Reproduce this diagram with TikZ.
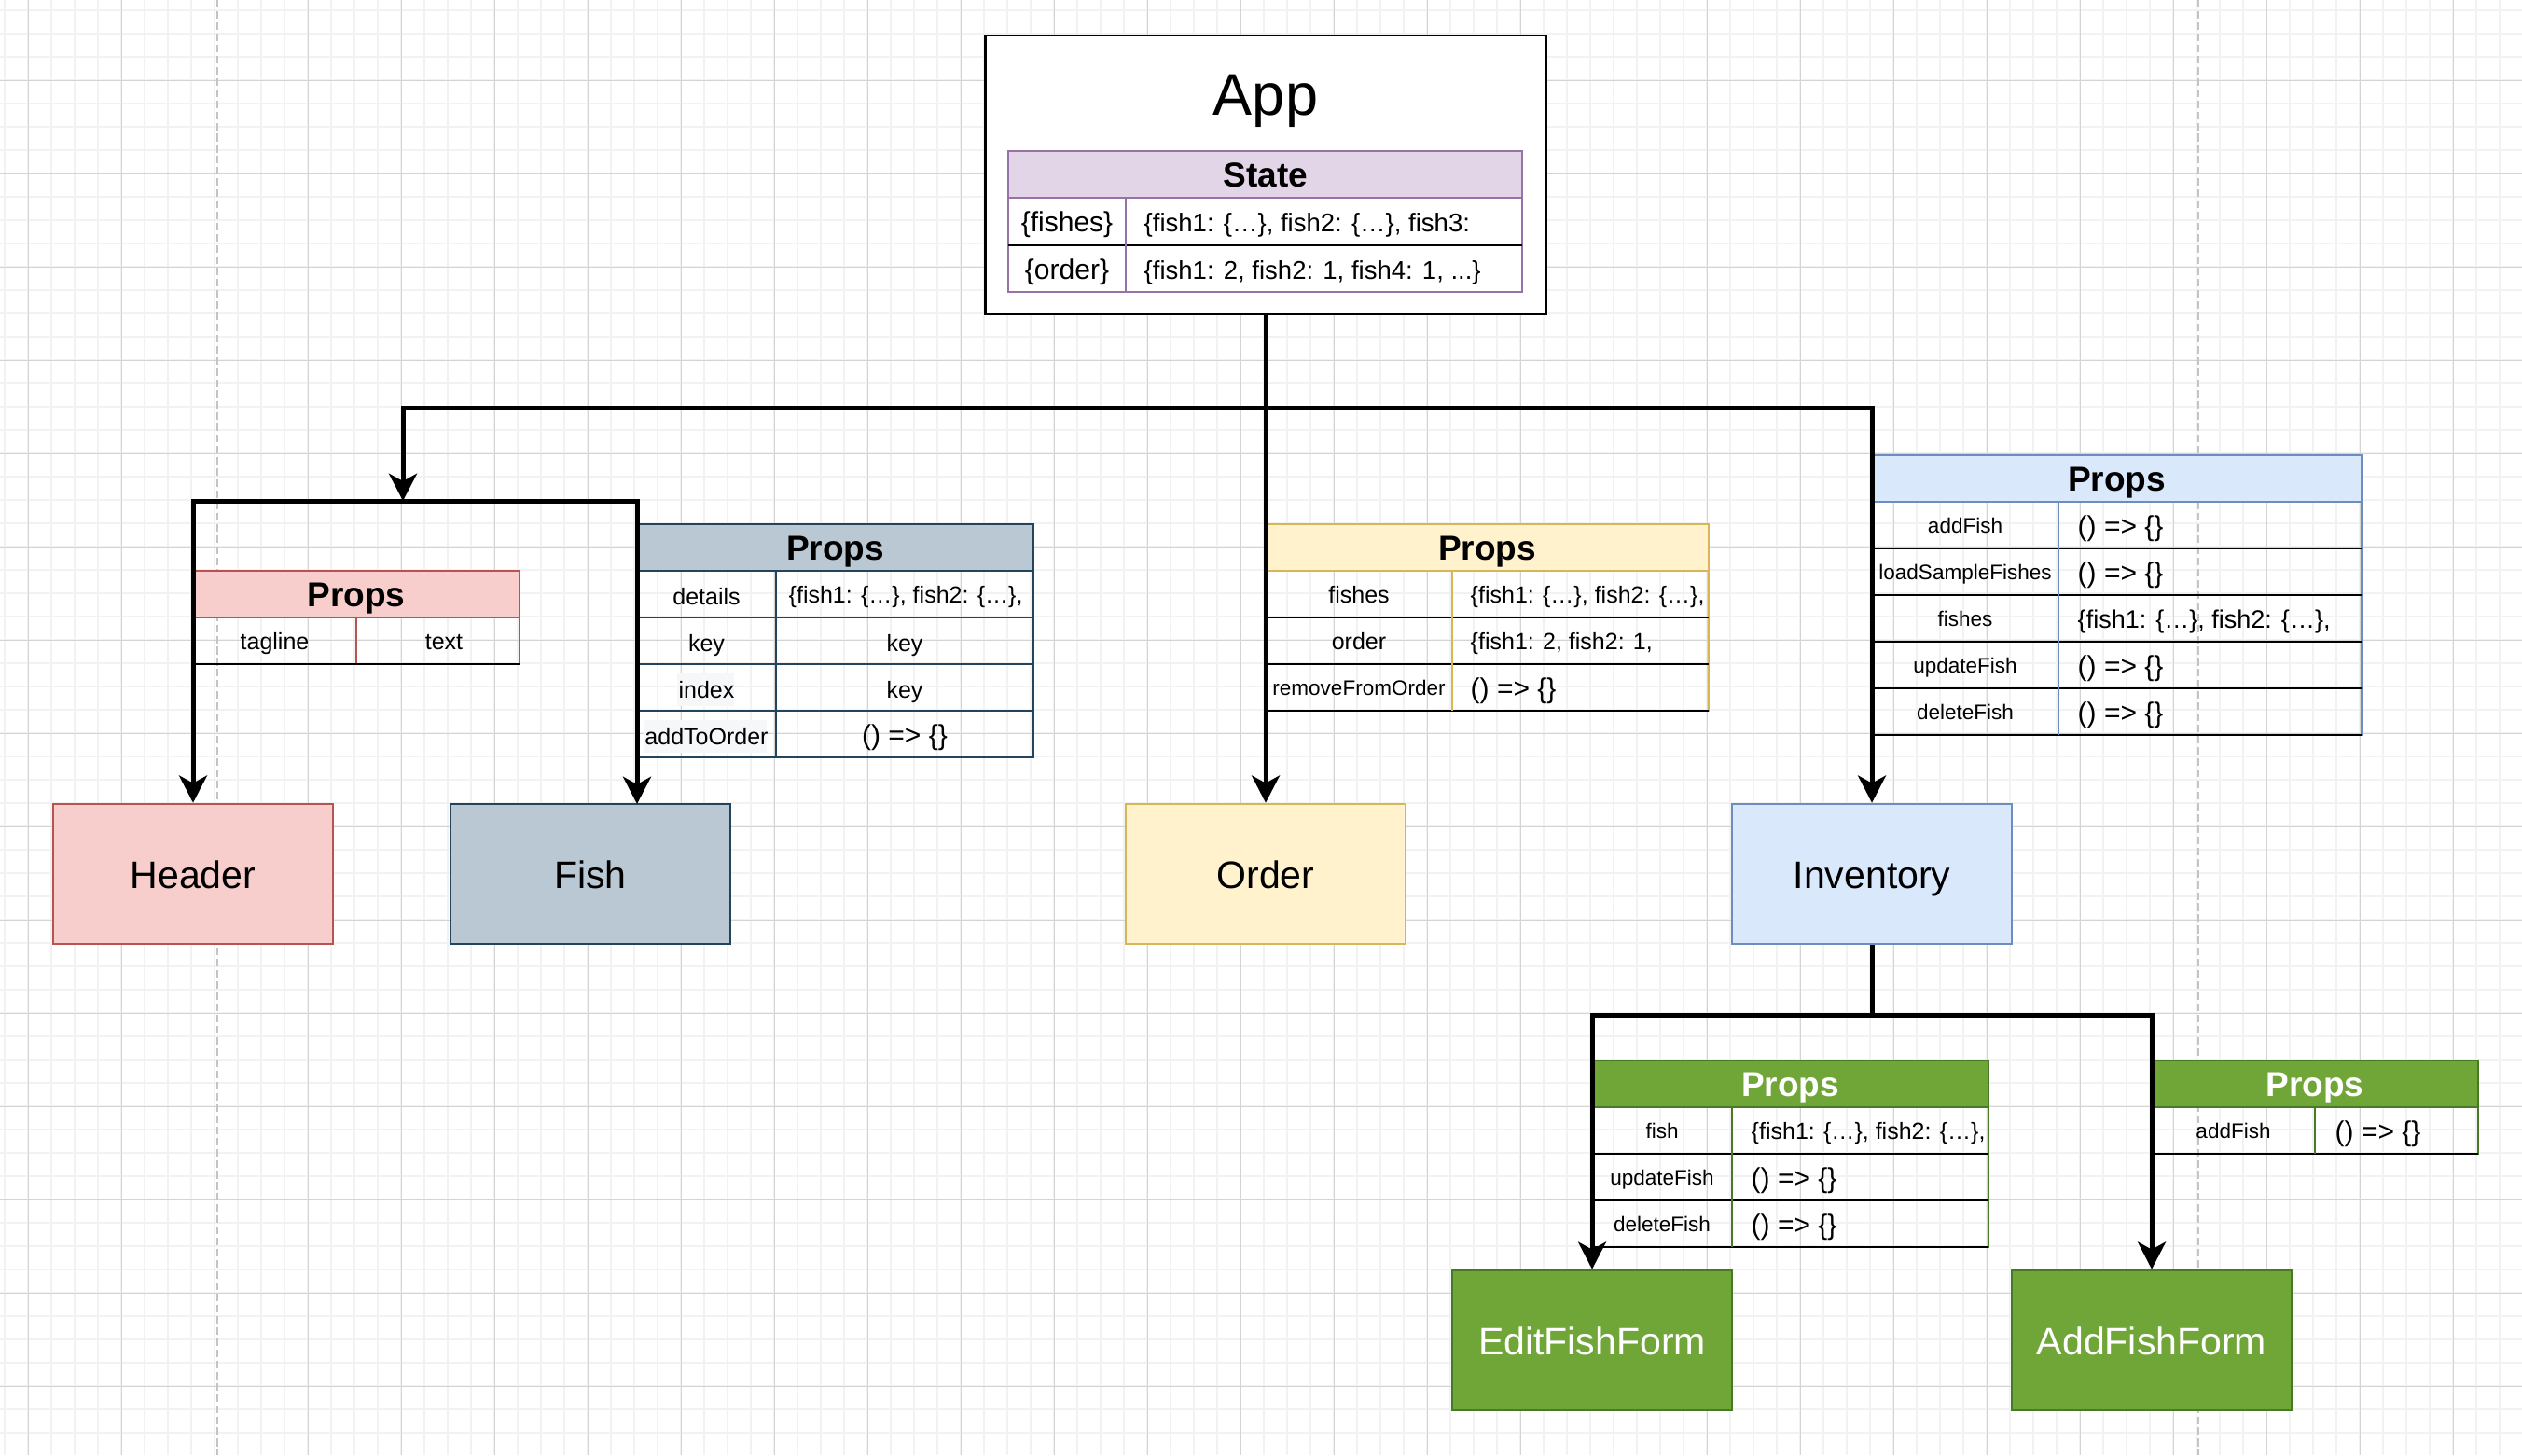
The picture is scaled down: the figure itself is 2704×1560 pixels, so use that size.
\documentclass[tikz,border=0pt]{standalone}
\usepackage{fontspec}
\setmainfont{Liberation Sans}
\usetikzlibrary{arrows.meta}
\newcommand\pxf[1]{\fontsize{\fpeval{#1*0.28453}pt}{\fpeval{#1*0.34}pt}\selectfont}
\definecolor{pinkF}{HTML}{F8CECC}\definecolor{pinkS}{HTML}{B85450}
\definecolor{fishF}{HTML}{BAC8D3}\definecolor{fishS}{HTML}{23445D}
\definecolor{ordF}{HTML}{FFF2CC}\definecolor{ordS}{HTML}{D6B656}
\definecolor{invF}{HTML}{DAE8FC}\definecolor{invS}{HTML}{6C8EBF}
\definecolor{grnF}{HTML}{70A638}\definecolor{grnS}{HTML}{467A24}
\definecolor{purF}{HTML}{E1D5E7}\definecolor{purS}{HTML}{9673A6}
\definecolor{gridMinor}{HTML}{F2F2F2}\definecolor{gridMajor}{HTML}{D4D4D4}
\definecolor{pageLine}{HTML}{C4C4C4}\definecolor{hl}{HTML}{F6F7F8}
\tikzset{
  >={Stealth[length=8.3pt,width=8.5pt,inset=2.3pt]},
  conn/.style={line width=1.42pt, draw=black},
  comp/.style={draw, line width=0.71pt, minimum width=3cm, minimum height=1.5cm, inner sep=0pt, font=\pxf{41}},
  lbl/.style={inner sep=0pt, anchor=base},
  lblw/.style={inner sep=0pt, anchor=base west},
  hdr/.style={inner sep=0pt, anchor=base, font=\bfseries\pxf{37}},
  bw/.style={line width=0.71pt},
  minorline/.style={draw=gridMinor, line width=0.37pt},
  majorline/.style={draw=gridMajor, line width=0.28pt},
  pageline/.style={draw=pageLine, line width=0.57pt, dash pattern=on 2.3pt off 1.1pt},
}
\begin{document}
\begin{tikzpicture}[x=0.01cm, y=-0.01cm]
\useasboundingbox (0,0) rectangle (2704,1560);
\fill[white] (0,0) rectangle (2704,1560);
% grid
\foreach \i in {0,...,107} \draw[minorline] ({5+25*\i},0) -- ({5+25*\i},1560);
\foreach \i in {0,...,61} \draw[minorline] (0,{11+25*\i}) -- (2704,{11+25*\i});
\foreach \i in {0,...,26} \draw[majorline] ({30+100*\i},0) -- ({30+100*\i},1560);
\foreach \i in {0,...,14} \draw[majorline] (0,{86+100*\i}) -- (2704,{86+100*\i});
\draw[pageline] (233,0) -- (233,1560);
\draw[pageline] (2357,0) -- (2357,1560);

% App
\node[draw, fill=white, line width=0.71pt, minimum width=6.01cm, minimum height=2.99cm, inner sep=0pt] (App) at (1357,187.5) {};
\node[lbl, font=\pxf{63}] (appT) at (1357,123) {App};
\fill[purF] (1081,162) rectangle (1632,212);
\draw[purS,bw] (1081,162) rectangle (1632,313);
\draw[purS,bw] (1081,212) -- (1632,212);
\draw[black,bw] (1081,263) -- (1632,263);
\draw[purS,bw] (1207,212) -- (1207,313);
\node[hdr] (stateT) at (1357,200) {State};
\node[lbl, font=\pxf{30}] (sk1) at (1144,248) {\{fishes\}};
\node[lblw, font=\pxf{27.5}] (sv1) at (1226,248) {\{fish1: \{…\}, fish2: \{…\}, fish3:};
\node[lbl, font=\pxf{30}] (sk2) at (1144,299) {\{order\}};
\node[lblw, font=\pxf{27.5}] (sv2) at (1226,299) {\{fish1: 2, fish2: 1, fish4: 1, ...\}};

% component boxes
\node[comp, fill=pinkF, draw=pinkS] (Header) at (207,937) {};
\node[lbl, font=\pxf{41}] (HeaderT) at (207,952) {Header};
\node[comp, fill=fishF, draw=fishS] (Fish) at (633,937) {};
\node[lbl, font=\pxf{41}] (FishT) at (633,952) {Fish};
\node[comp, fill=ordF, draw=ordS] (Order) at (1357,937) {};
\node[lbl, font=\pxf{41}] (OrderT) at (1357,952) {Order};
\node[comp, fill=invF, draw=invS] (Inventory) at (2007,937) {};
\node[lbl, font=\pxf{41}] (InventoryT) at (2007,952) {Inventory};
\node[comp, fill=grnF, draw=grnS] (EditFishForm) at (1707,1437) {};
\node[lbl, font=\pxf{41}, text=white] (EditT) at (1707,1452) {EditFishForm};
\node[comp, fill=grnF, draw=grnS] (AddFishForm) at (2307,1437) {};
\node[lbl, font=\pxf{41}, text=white] (AddT) at (2307,1452) {AddFishForm};

% Header props (pink)
\fill[pinkF] (207,612) rectangle (557,662);
\draw[pinkS,bw] (207,612) rectangle (557,712);
\draw[pinkS,bw] (207,662) -- (557,662);
\draw[pinkS,bw] (382,662) -- (382,712);
\draw[black,bw] (207,712) -- (557,712);
\node[hdr] (pkH) at (382,650) {Props};
\node[lbl, font=\pxf{25}] (pk1) at (294.5,696) {tagline};
\node[lbl, font=\pxf{25}] (pk2) at (476,696) {text};

% Fish props
\fill[fishF] (683,562) rectangle (1108,612);
\fill[hl] (726,722) rectangle (787,757);
\fill[hl] (691,772) rectangle (822,807);
\draw[fishS,bw] (683,562) rectangle (1108,812);
\foreach \y in {612,662,712,762} \draw[fishS,bw] (683,\y) -- (1108,\y);
\draw[fishS,bw] (832,612) -- (832,812);
\node[hdr] (fsH) at (895.5,600.5) {Props};
\node[lbl, font=\pxf{25}] (fs1) at (757.5,648) {details};
\node[lblw, font=\pxf{25}] (fv1) at (845,646) {\{fish1: \{…\}, fish2: \{…\},};
\node[lbl, font=\pxf{25}] (fs2) at (757.5,698) {key};
\node[lbl, font=\pxf{25}] (fv2) at (970,698) {key};
\node[lbl, font=\pxf{25}] (fs3) at (757.5,748) {index};
\node[lbl, font=\pxf{25}] (fv3) at (970,748) {key};
\node[lbl, font=\pxf{25}] (fs4) at (757.5,798) {addToOrder};
\node[lbl, font=\pxf{30}] (fv4) at (970,798) {() => \{\}};

% Order props
\fill[ordF] (1357,562) rectangle (1832,612);
\draw[ordS,bw] (1357,562) rectangle (1832,762);
\draw[ordS,bw] (1357,612) -- (1832,612);
\foreach \y in {662,712,762} \draw[black,bw] (1357,\y) -- (1832,\y);
\draw[ordS,bw] (1557,612) -- (1557,762);
\node[hdr] (orH) at (1594.5,600.5) {Props};
\node[lbl, font=\pxf{25}] (or1) at (1457,646) {fishes};
\node[lblw, font=\pxf{25}] (ov1) at (1576,646) {\{fish1: \{…\}, fish2: \{…\},};
\node[lbl, font=\pxf{25}] (or2) at (1457,696) {order};
\node[lblw, font=\pxf{25}] (ov2) at (1576,696) {\{fish1: 2, fish2: 1,};
\node[lbl, font=\pxf{22.5}] (or3) at (1457,745) {removeFromOrder};
\node[lblw, font=\pxf{30}] (ov3) at (1576,748) {() => \{\}};

% Inventory props
\fill[invF] (2007,488) rectangle (2532,538);
\draw[invS,bw] (2007,488) rectangle (2532,788);
\draw[invS,bw] (2007,538) -- (2532,538);
\foreach \y in {588,638,688,738,788} \draw[black,bw] (2007,\y) -- (2532,\y);
\draw[invS,bw] (2207,538) -- (2207,788);
\node[hdr] (ivH) at (2269.5,526.5) {Props};
\node[lbl, font=\pxf{22.5}] (iv1) at (2107,571.5) {addFish};
\node[lblw, font=\pxf{30}] (ivv1) at (2227,574) {() => \{\}};
\node[lbl, font=\pxf{22.5}] (iv2) at (2107,621.5) {loadSampleFishes};
\node[lblw, font=\pxf{30}] (ivv2) at (2227,624) {() => \{\}};
\node[lbl, font=\pxf{22.5}] (iv3) at (2107,671.5) {fishes};
\node[lblw, font=\pxf{27}] (ivv3) at (2227,673) {\{fish1: \{…\}, fish2: \{…\},};
\node[lbl, font=\pxf{22.5}] (iv4) at (2107,721.5) {updateFish};
\node[lblw, font=\pxf{30}] (ivv4) at (2227,724) {() => \{\}};
\node[lbl, font=\pxf{22.5}] (iv5) at (2107,771.5) {deleteFish};
\node[lblw, font=\pxf{30}] (ivv5) at (2227,774) {() => \{\}};

% EditFishForm props
\fill[grnF] (1707,1137) rectangle (2132,1187);
\draw[grnS,bw] (1707,1137) rectangle (2132,1337);
\draw[grnS,bw] (1707,1187) -- (2132,1187);
\foreach \y in {1237,1287,1337} \draw[black,bw] (1707,\y) -- (2132,\y);
\draw[grnS,bw] (1857,1187) -- (1857,1337);
\node[hdr, text=white] (edH) at (1919.5,1175.5) {Props};
\node[lbl, font=\pxf{22.5}] (ed1) at (1782,1220.5) {fish};
\node[lblw, font=\pxf{25}] (edv1) at (1877,1221.5) {\{fish1: \{…\}, fish2: \{…\},};
\node[lbl, font=\pxf{22.5}] (ed2) at (1782,1270.5) {updateFish};
\node[lblw, font=\pxf{30}] (edv2) at (1877,1273) {() => \{\}};
\node[lbl, font=\pxf{22.5}] (ed3) at (1782,1320.5) {deleteFish};
\node[lblw, font=\pxf{30}] (edv3) at (1877,1323) {() => \{\}};

% AddFishForm props
\fill[grnF] (2307,1137) rectangle (2657,1187);
\draw[grnS,bw] (2307,1137) rectangle (2657,1237);
\draw[grnS,bw] (2307,1187) -- (2657,1187);
\draw[black,bw] (2307,1237) -- (2657,1237);
\draw[grnS,bw] (2482,1187) -- (2482,1237);
\node[hdr, text=white] (adH) at (2482,1175.5) {Props};
\node[lbl, font=\pxf{22.5}] (ad1) at (2394.5,1220.5) {addFish};
\node[lblw, font=\pxf{30}] (adv1) at (2503,1223) {() => \{\}};

% connectors
\coordinate (j1) at (432,537);
\coordinate (tR) at (2007,437);
\coordinate (fishin) at (683,862);
\coordinate (j2) at (2007,1088);
\draw[conn,->] (App.south) -- (Order.north);
\draw[conn,<->] (j1) |- (tR) -- (Inventory.north);
\draw[conn,<->] (Header.north) |- (j1) -| (fishin);
\draw[conn] (Inventory.south) -- (j2);
\draw[conn,<->] (EditFishForm.north) |- (j2) -| (AddFishForm.north);
\end{tikzpicture}
\end{document}
